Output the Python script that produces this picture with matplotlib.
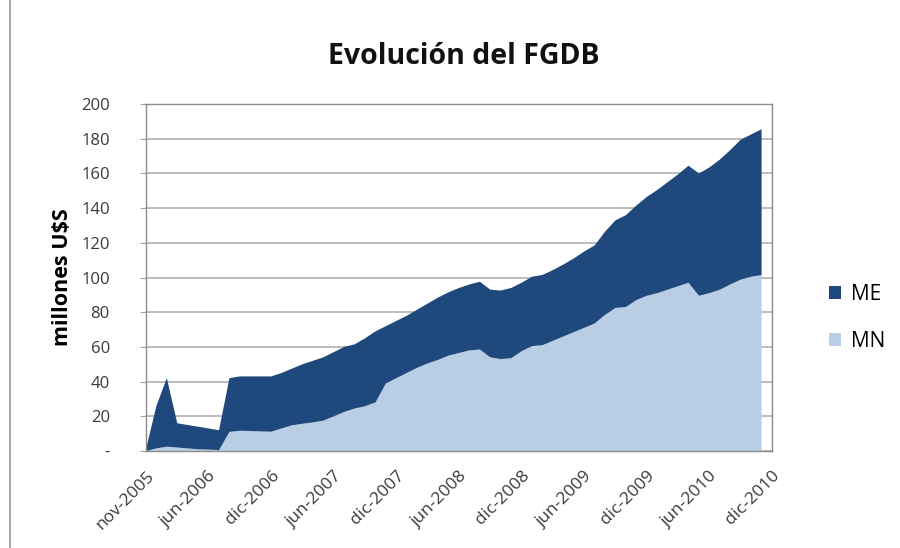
import numpy as np
import matplotlib.pyplot as plt
from matplotlib.lines import Line2D

# datos (millones U$S), un punto por período
mn = [0, 1.5, 2.5, 2, 1.5, 1, 0.8, 0.5, 11, 11.7, 11.5, 11.3, 11.1, 13, 14.8, 15.7,
      16.5, 17.5, 20, 22.5, 24.5, 25.8, 28, 39, 42, 45, 48, 50.5, 52.5, 55, 56.5,
      58, 58.5, 54, 53, 53.5, 57.5, 60.5, 61, 63.5, 66, 68.5, 71, 73.5, 78.5, 82.5,
      83, 87, 89.5, 91, 93, 95, 97, 89.5, 91, 93, 96, 98.8, 100.5, 101.4]
me = [1, 24.5, 39.5, 14, 13.5, 13, 12.2, 11.5, 31, 31.3, 31.5, 31.7, 31.9, 32, 32.7,
      34.3, 35.5, 36.5, 37, 37.5, 37, 39.2, 41, 33, 33, 33, 33.5, 34.5, 36, 36.5,
      37.5, 38, 39.1, 39, 39.5, 40.5, 39.5, 40, 40.5, 40.8, 41.5, 42.5, 44, 45, 48,
      50.5, 53, 54.5, 57, 59.5, 62, 64.5, 67.5, 70.5, 72.5, 75, 77.5, 80.7, 82, 84.1]
tick_labels = ['nov-2005', 'jun-2006', 'dic-2006', 'jun-2007', 'dic-2007', 'jun-2008',
               'dic-2008', 'jun-2009', 'dic-2009', 'jun-2010', 'dic-2010']
tick_pos = [0, 6, 12, 18, 24, 30, 36, 42, 48, 54, 60]

plt.rcParams['font.family'] = ['Open Sans', 'DejaVu Sans']

x = np.arange(len(mn))
c_me = '#1F497D'
c_mn = '#B9CDE5'

fig = plt.figure(figsize=(9, 5.48), dpi=100)
ax = fig.add_axes([0.1622, 0.177, 0.6956, 0.633])

# MN abajo, ME apilado encima
ax.stackplot(x, mn, me, colors=[c_mn, c_me], labels=['MN', 'ME'], linewidth=0)

ax.set_xlim(0, 60)
ax.set_ylim(0, 200)
ax.set_yticks(range(0, 201, 20))
ax.set_yticklabels(['-'] + [str(v) for v in range(20, 201, 20)], fontsize=12, color='#3A3A3A')
ax.set_xticks(tick_pos)
ax.set_xticklabels(tick_labels, rotation=45, ha='right', va='top', rotation_mode='anchor',
                   fontsize=12.5, color='#3A3A3A')
ax.tick_params(axis='x', length=0, pad=12)
ax.tick_params(axis='y', length=4, color='#A0A0A0', pad=22)
ax.grid(axis='y', color='#B0B0B0', linewidth=1.2)
ax.set_axisbelow(True)
for s in ax.spines.values():
    s.set_color('#8C8C8C')
    s.set_linewidth(1)

ax.set_ylabel('millones U$S', fontsize=15.5, fontweight='bold', labelpad=6)
fig.text(0.515, 0.897, 'Evolución del FGDB', ha='center', va='center',
         fontsize=20.5, fontweight='bold', color='#111111')

h, l = ax.get_legend_handles_labels()
fig.legend(h[::-1], l[::-1], loc='center left', bbox_to_anchor=(0.9, 0.42),
           frameon=False, fontsize=15, handlelength=0.6, handleheight=0.6,
           labelspacing=1.25, handletextpad=0.45)

fig.add_artist(Line2D([0.011, 0.011], [0, 1], color='#9A9A9A', linewidth=1.2))

plt.savefig('out.png', dpi=100)
